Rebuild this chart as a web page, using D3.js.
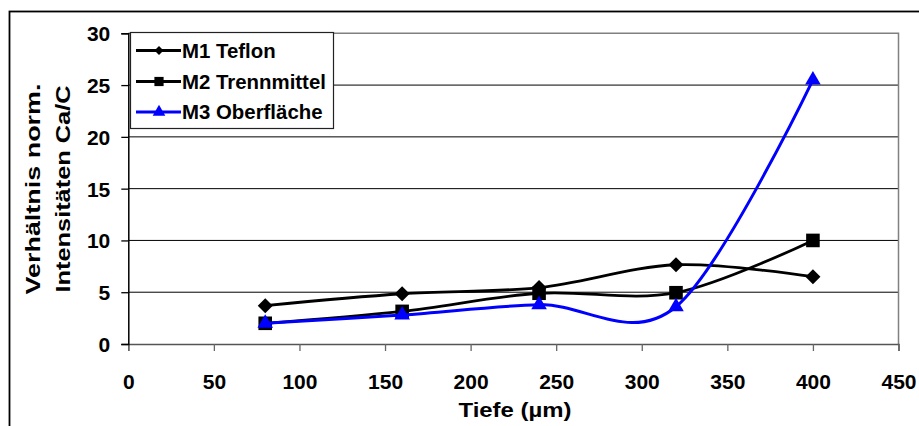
<!DOCTYPE html>
<html><head><meta charset="utf-8">
<script src="https://cdn.jsdelivr.net/npm/d3@7"></script>
<style>
html,body{margin:0;padding:0;background:#fff;}
svg{display:block;font-family:"Liberation Sans",Arial,sans-serif;font-weight:bold;}
</style></head>
<body>
<svg id="chart" width="919" height="426"></svg>
<script>
// ---- data ----
const depths = [80, 160, 240, 320, 400];
const m1Teflon = [3.7, 4.85, 5.45, 7.65, 6.5];
const m2Trennmittel = [2.0, 3.15, 4.9, 4.95, 10.0];
const m3Oberflaeche = [2.0, 2.8, 3.8, 3.6, 25.5];
const seriesNames = ["M1 Teflon", "M2 Trennmittel", "M3 Oberfläche"];
const xTicks = [0, 50, 100, 150, 200, 250, 300, 350, 400, 450];
const yTicks = [0, 5, 10, 15, 20, 25, 30];
const xTitle = "Tiefe (\u00B5m)";
const yTitleLines = ["Verhältnis norm.", "Intensitäten Ca/C"];

const svg = d3.select("#chart");
const L = 128.3, R = 898.5, T = 33.3, B = 344;
const FS = 21;

const x = d3.scaleLinear().domain([0, 450]).range([L, R]);
const y = d3.scaleLinear().domain([0, 30]).range([B, T]);

// outer chart border
svg.append("rect").attr("x", 9.5).attr("y", 11.5).attr("width", 940).attr("height", 440)
  .attr("fill", "#fff").attr("stroke", "#000").attr("stroke-width", 1.8);

// gridlines
svg.append("g").selectAll("line").data(yTicks.filter(d => d > 0 && d < 30)).join("line")
  .attr("x1", L).attr("x2", R).attr("y1", d => y(d)).attr("y2", d => y(d))
  .attr("stroke", "#000").attr("stroke-width", 1);

// plot border (top & right) gray
svg.append("path").attr("d", `M${L},${T}H${R}V${B}`).attr("fill", "none")
  .attr("stroke", "#808080").attr("stroke-width", 1.5);

// x axis
const xAxis = d3.axisBottom(x).tickValues(xTicks).tickSize(7).tickPadding(10).tickFormat(d3.format("d"));
const gx = svg.append("g").attr("transform", `translate(0,${B})`).call(xAxis);
gx.select(".domain").attr("stroke", "#555").attr("stroke-width", 1.5);
gx.selectAll(".tick line").attr("stroke", "#666").attr("stroke-width", 1.3);
gx.selectAll(".tick text").attr("font-size", FS).attr("font-weight", "bold")
  .attr("font-family", "Liberation Sans, Arial, sans-serif").attr("fill", "#000")
  .attr("dy", null).attr("y", 44.5);

// y axis
const yAxis = d3.axisLeft(y).tickValues(yTicks).tickSize(7).tickPadding(11).tickFormat(d3.format("d"));
const gy = svg.append("g").attr("transform", `translate(${L},0)`).call(yAxis);
gy.select(".domain").attr("stroke", "#000").attr("stroke-width", 1.5);
gy.selectAll(".tick line").attr("stroke", "#000").attr("stroke-width", 1.3);
gy.selectAll(".tick text").attr("font-size", FS).attr("font-weight", "bold")
  .attr("font-family", "Liberation Sans, Arial, sans-serif").attr("fill", "#000")
  .attr("dy", "0.36em").attr("x", -18);

// axis titles
svg.append("text").attr("x", 515).attr("y", 417).attr("text-anchor", "middle")
  .attr("font-size", FS).attr("textLength", 113).attr("lengthAdjust", "spacingAndGlyphs").text(xTitle);
const ytl = [{t: yTitleLines[0], bx: 40, len: 211}, {t: yTitleLines[1], bx: 70, len: 207}];
ytl.forEach(o => {
  svg.append("text").attr("transform", `translate(${o.bx},189) rotate(-90)`)
    .attr("text-anchor", "middle").attr("font-size", FS)
    .attr("textLength", o.len).attr("lengthAdjust", "spacingAndGlyphs").text(o.t);
});

// series
const curve = d3.curveCatmullRom.alpha(0);
const line = d3.line().x(d => x(d[0])).y(d => y(d[1])).curve(curve);
const diamond = s => `M0,${-s}L${s},0L0,${s}L${-s},0Z`;
const square = s => `M${-s},${-s}H${s}V${s}H${-s}Z`;
const tri = s => { const h = s * Math.sqrt(3); return `M0,${-h*2/3}L${s},${h/3}L${-s},${h/3}Z`; };

const series = [
  {name: seriesNames[0], vals: m1Teflon, color: "#000", width: 2.8, mk: () => diamond(7.5), lmk: () => diamond(4.5)},
  {name: seriesNames[1], vals: m2Trennmittel, color: "#000", width: 2.8, mk: () => square(6.8), lmk: () => square(4.6)},
  {name: seriesNames[2], vals: m3Oberflaeche, color: "#0000ff", width: 3, mk: () => tri(7.8), lmk: () => tri(6.3)}
];

series.forEach(s => {
  const pts = depths.map((d, i) => [d, s.vals[i]]);
  svg.append("path").datum(pts).attr("d", line).attr("fill", "none")
    .attr("stroke", s.color).attr("stroke-width", s.width).attr("stroke-linejoin", "round");
  svg.append("g").selectAll("path").data(pts).join("path")
    .attr("transform", d => `translate(${x(d[0])},${y(d[1])})`)
    .attr("d", s.mk()).attr("fill", s.color);
});

// legend
const lg = svg.append("g");
lg.append("rect").attr("x", 130.5).attr("y", 32.5).attr("width", 203).attr("height", 96)
  .attr("fill", "#fff").attr("stroke", "#222").attr("stroke-width", 1.2);
const rowY = [50.5, 81.5, 112];
series.forEach((s, i) => {
  const yy = rowY[i];
  lg.append("line").attr("x1", 136).attr("x2", 181).attr("y1", yy).attr("y2", yy)
    .attr("stroke", s.color).attr("stroke-width", s.width);
  lg.append("path").attr("transform", `translate(159,${yy})`).attr("d", s.lmk()).attr("fill", s.color);
  lg.append("text").attr("x", 182).attr("y", yy).attr("dy", "0.36em").attr("font-size", 20.4).text(s.name);
});
</script>
</body></html>
